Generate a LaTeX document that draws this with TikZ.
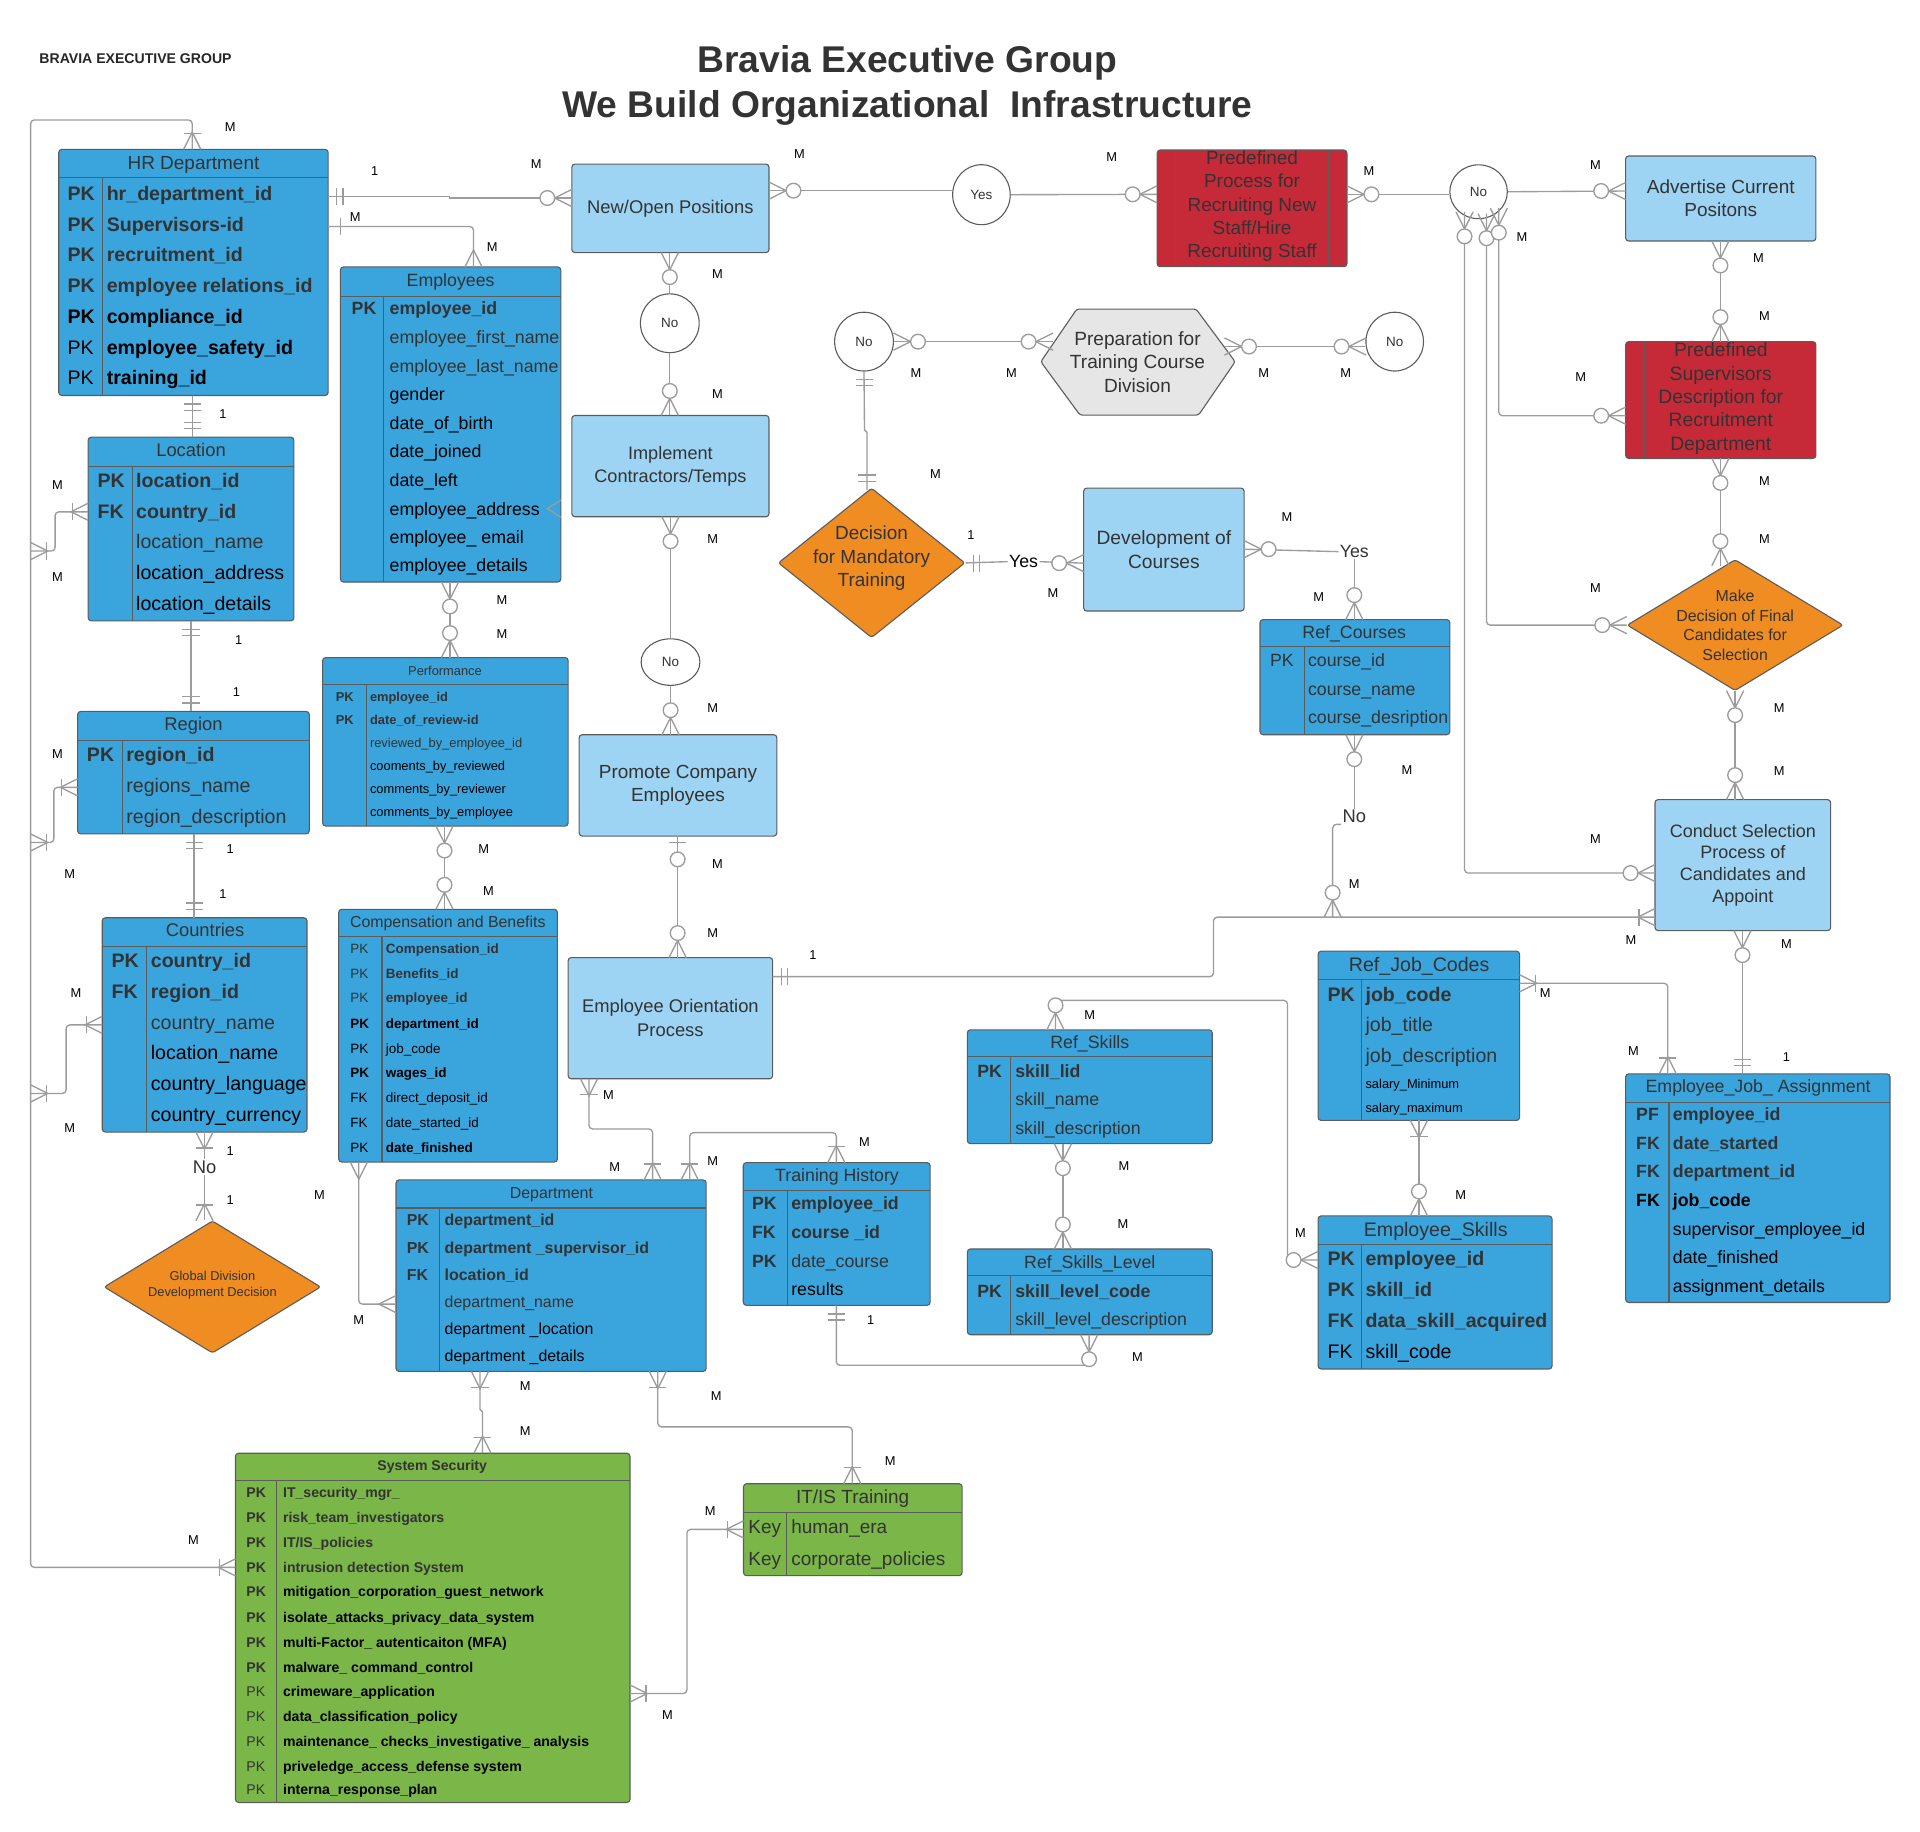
\documentclass[tikz,border=0pt]{standalone}
\usepackage{fontspec}
\setmainfont{Liberation Sans}
\usetikzlibrary{shapes.geometric}
\definecolor{tblue}{HTML}{3AA4DD}
\definecolor{lblue}{HTML}{9ED4F3}
\definecolor{pred}{HTML}{C62A38}
\definecolor{dorange}{HTML}{EF8C22}
\definecolor{sgreen}{HTML}{7AB648}
\definecolor{hexgray}{HTML}{E6E6E6}
\definecolor{edge}{HTML}{5C5C5C}
\definecolor{conn}{HTML}{9C9C9C}
\definecolor{txt}{HTML}{333333}
\newcommand\fs[1]{\fontsize{#1}{#1}\selectfont}
\newcommand\fsl[2]{\fontsize{#1}{#2}\selectfont}
\newcommand\tsz{16}
\newcounter{rc}
\newcounter{lc}
\newcommand\rw[7]{\stepcounter{rc}\node[cell,#4] (rk\arabic{rc}) at (#1,#3) {#5};\node[cell,#6] (rt\arabic{rc}) at (#2,#3) {#7};}
\newcommand\hd[5]{\node[anchor=base,inner sep=0pt,text=txt,font=\fs{#4},yshift={-0.36*#4}] (#1) at (#2,#3) {#5};}
\newcommand\tb[8]{\node[box,fill=#6,minimum width={#4-#2},minimum height={#5-#3}] (#1) at (#2,#3) {};\draw[ln] (#2,#7) -- (#4,#7);\draw[ln] (#8,#7) -- (#8,#5);}
\newcommand\mkr[3]{\begin{scope}[shift={(#1)},rotate=#2]#3\end{scope}}
\newcommand\crF{\draw[mk] (0,-7)--(14,0)--(0,7);}
\newcommand\crO{\crF\draw[mk,fill=white] (20,0) circle[radius=6];}
\newcommand\crB{\crF\draw[mk] (13,-7)--(13,7);}
\newcommand\brD{\draw[mk] (7,-7)--(7,7) (12,-7)--(12,7);}
\newcommand\brS{\draw[mk] (10,-7)--(10,7);}
\newcommand\brO{\draw[mk] (5,-7)--(5,7);\draw[mk,fill=white] (19,0) circle[radius=6];}
\newcommand\lb[2]{\stepcounter{lc}\node[lab] (lb\arabic{lc}) at (#1) {#2};}
\begin{document}
\begin{tikzpicture}[x=1pt,y=-1pt,
 box/.style={draw=edge,line width=0.9pt,rounded corners=2.5pt,anchor=north west,inner sep=0pt,outer sep=0pt},
 ln/.style={draw=edge,line width=0.9pt},
 cell/.style={anchor=base west,inner sep=0pt,yshift={-0.36*\tsz}},
 gb/.style={font=\fs{\tsz}\bfseries,text=txt},
 gr/.style={font=\fs{\tsz},text=txt},
 kb/.style={font=\fs{\tsz}\bfseries,text=black},
 kr/.style={font=\fs{\tsz},text=black},
 proc/.style={box,fill=lblue,text=txt,align=center},
 cn/.style={draw=conn,line width=1.1pt,rounded corners=3pt},
 mk/.style={draw=conn,line width=1.1pt},
 lab/.style={font=\fs{10.5},inner sep=0pt,text=black},
 circ/.style={ellipse,draw=edge,fill=white,line width=0.9pt,inner sep=0pt,text=txt},
 dia/.style={diamond,draw=edge,fill=dorange,line width=0.9pt,inner sep=0pt,rounded corners=2pt},
]
\useasboundingbox (0,0) rectangle (1568,1496);
\fill[white] (0,0) rectangle (1568,1496);

% titles
\node[anchor=base,inner sep=0pt,font=\fs{30.4}\bfseries,text=txt] (t1) at (741,59) {Bravia Executive Group};
\node[anchor=base,inner sep=0pt,font=\fs{30.4}\bfseries,text=txt] (t2) at (741,96) {We Build Organizational\ \ Infrastructure};
\node[anchor=base west,inner sep=0pt,font=\fs{11.5}\bfseries,text=black!85] (t0) at (32,52) {BRAVIA EXECUTIVE GROUP};

% ---------- tables ----------
% HR
\tb{hr}{48}{122}{268}{323}{tblue}{145}{84}
\hd{hrh}{158}{133}{15.5}{HR Department}
\renewcommand\tsz{16}
\rw{55}{87}{158}{gb}{PK}{gb}{hr\_department\_id}
\rw{55}{87}{183.5}{gb}{PK}{gb}{Supervisors-id}
\rw{55}{87}{208.2}{gb}{PK}{gb}{recruitment\_id}
\rw{55}{87}{233.5}{gb}{PK}{gb}{employee relations\_id}
\rw{55}{87}{258.2}{kb}{PK}{kb}{compliance\_id}
\rw{55}{87}{283.4}{kr}{PK}{kb}{employee\_safety\_id}
\rw{55}{87}{308.6}{kr}{PK}{kb}{training\_id}

% Employees
\tb{emp}{278}{218}{458}{475.3}{tblue}{242}{313}
\hd{emph}{368}{228.5}{14.5}{Employees}
\renewcommand\tsz{14.5}
\rw{287}{318}{252}{gb}{PK}{gb}{employee\_id}
\rw{287}{318}{275}{gr}{}{gr}{employee\_first\_name}
\rw{287}{318}{298.7}{gr}{}{gr}{employee\_last\_name}
\rw{287}{318}{321.8}{kr}{}{kr}{gender}
\rw{287}{318}{345.3}{kr}{}{kr}{date\_of\_birth}
\rw{287}{318}{368.4}{kr}{}{kr}{date\_joined}
\rw{287}{318}{391.8}{kr}{}{kr}{date\_left}
\rw{287}{318}{415.4}{kr}{}{kr}{employee\_address}
\rw{287}{318}{438.6}{kr}{}{kr}{employee\_ email}
\rw{287}{318}{461.9}{kr}{}{kr}{employee\_details}

% Location
\tb{loc}{72}{357}{240}{507}{tblue}{381}{108}
\hd{loch}{156}{367}{15}{Location}
\renewcommand\tsz{16}
\rw{79.5}{111}{392.4}{gb}{PK}{gb}{location\_id}
\rw{79.5}{111}{417.7}{gb}{FK}{gb}{country\_id}
\rw{79.5}{111}{442.5}{gr}{}{gr}{location\_name}
\rw{79.5}{111}{467.8}{kr}{}{kr}{location\_address}
\rw{79.5}{111}{492.8}{kr}{}{kr}{location\_details}

% Region
\tb{reg}{63.4}{581}{252.6}{681}{tblue}{605}{100}
\hd{regh}{158}{591}{15}{Region}
\rw{70.8}{103}{616.4}{gb}{PK}{gb}{region\_id}
\rw{70.8}{103}{641.6}{gr}{}{gr}{regions\_name}
\rw{70.8}{103}{666.7}{gr}{}{gr}{region\_description}

% Countries
\tb{cty}{83.5}{749.5}{250.7}{924.5}{tblue}{773}{120}
\hd{ctyh}{167.5}{759.5}{15}{Countries}
\rw{91}{123}{784.3}{gb}{PK}{gb}{country\_id}
\rw{91}{123}{809.4}{gb}{FK}{gb}{region\_id}
\rw{91}{123}{834.6}{gr}{}{gr}{country\_name}
\rw{91}{123}{859.8}{kr}{}{kr}{location\_name}
\rw{91}{123}{885}{kr}{}{kr}{country\_language}
\rw{91}{123}{910}{kr}{}{kr}{country\_currency}

% Performance
\tb{perf}{263.5}{537}{464}{674.6}{tblue}{559}{299}
\hd{perfh}{363.4}{547.7}{10.5}{Performance}
\renewcommand\tsz{10.5}
\rw{274}{302}{569}{gb}{PK}{gb}{employee\_id}
\rw{274}{302}{587.6}{gb}{PK}{gb}{date\_of\_review-id}
\rw{274}{302}{606.6}{gr}{}{gr}{reviewed\_by\_employee\_id}
\rw{274}{302}{625.3}{kr}{}{kr}{cooments\_by\_reviewed}
\rw{274}{302}{644.3}{kr}{}{kr}{comments\_by\_reviewer}
\rw{274}{302}{663}{kr}{}{kr}{comments\_by\_employee}

% Compensation and Benefits
\tb{comp}{276.6}{742.6}{455.2}{949}{tblue}{765}{312}
\hd{comph}{365.7}{752.7}{13}{Compensation and Benefits}
\renewcommand\tsz{11}
\rw{286}{315}{774.7}{gr}{PK}{gb}{Compensation\_id}
\rw{286}{315}{795}{gr}{PK}{gb}{Benefits\_id}
\rw{286}{315}{815}{gr}{PK}{gb}{employee\_id}
\rw{286}{315}{835.6}{kb}{PK}{kb}{department\_id}
\rw{286}{315}{856}{kr}{PK}{kr}{job\_code}
\rw{286}{315}{876}{kb}{PK}{kb}{wages\_id}
\rw{286}{315}{896.7}{kr}{FK}{kr}{direct\_deposit\_id}
\rw{286}{315}{917}{kr}{FK}{kr}{date\_started\_id}
\rw{286}{315}{937.5}{kr}{PK}{kb}{date\_finished}

% Department
\tb{dept}{323.4}{963.6}{576.7}{1120}{tblue}{986.5}{359}
\hd{depth}{450.3}{974}{13}{Department}
\renewcommand\tsz{13}
\rw{332}{363}{996.5}{gb}{PK}{gb}{department\_id}
\rw{332}{363}{1018.6}{gb}{PK}{gb}{department \_supervisor\_id}
\rw{332}{363}{1041}{gb}{FK}{gb}{location\_id}
\rw{332}{363}{1063}{gr}{}{gr}{department\_name}
\rw{332}{363}{1085}{kr}{}{kr}{department \_location}
\rw{332}{363}{1107}{kr}{}{kr}{department \_details}

% Training History
\tb{th}{607}{949.5}{759.6}{1066}{tblue}{972}{643}
\hd{thh}{683.6}{959.5}{14.5}{Training History}
\renewcommand\tsz{14.5}
\rw{614}{646}{982.6}{gb}{PK}{gb}{employee\_id}
\rw{614}{646}{1006}{gb}{FK}{gb}{course \_id}
\rw{614}{646}{1029.5}{gb}{PK}{gr}{date\_course}
\rw{614}{646}{1052.7}{kr}{}{kr}{results}

% System Security
\tb{sys}{192.3}{1186.8}{514.5}{1472}{sgreen}{1209}{226}
\node[anchor=base,inner sep=0pt,text=txt,font=\fs{11.5}\bfseries,yshift={-0.36*11.5}] (sysh) at (353,1197) {System Security};
\renewcommand\tsz{11.5}
\rw{201}{231}{1219}{gb}{PK}{gb}{IT\_security\_mgr\_}
\rw{201}{231}{1239.4}{gb}{PK}{gb}{risk\_team\_investigators}
\rw{201}{231}{1259.4}{gb}{PK}{gb}{IT/IS\_policies}
\rw{201}{231}{1279.8}{gb}{PK}{gb}{intrusion detection System}
\rw{201}{231}{1300}{gb}{PK}{kb}{mitigation\_corporation\_guest\_network}
\rw{201}{231}{1320.5}{gb}{PK}{kb}{isolate\_attacks\_privacy\_data\_system}
\rw{201}{231}{1341}{gb}{PK}{kb}{multi-Factor\_ autenticaiton (MFA)}
\rw{201}{231}{1361.4}{gb}{PK}{kb}{malware\_ command\_control}
\rw{201}{231}{1381.5}{gr}{PK}{kb}{crimeware\_application}
\rw{201}{231}{1402}{gr}{PK}{kb}{data\_classification\_policy}
\rw{201}{231}{1422}{gr}{PK}{kb}{maintenance\_ checks\_investigative\_ analysis}
\rw{201}{231}{1442.3}{gr}{PK}{kb}{priveledge\_access\_defense system}
\rw{201}{231}{1461}{gr}{PK}{kb}{interna\_response\_plan}

% IT/IS Training
\tb{itis}{607.2}{1211.7}{785.7}{1286.8}{sgreen}{1235}{642}
\hd{itish}{696.3}{1222.6}{15.5}{IT/IS Training}
\renewcommand\tsz{15.5}
\rw{611}{646}{1247}{gr}{Key}{gr}{human\_era}
\rw{611}{646}{1272.5}{gr}{Key}{gr}{corporate\_policies}

% Ref_Courses
\tb{refc}{1029}{506}{1184}{600}{tblue}{528}{1065}
\hd{refch}{1106}{516}{14.5}{Ref\_Courses}
\renewcommand\tsz{14.5}
\rw{1037}{1068}{539}{gr}{PK}{gr}{course\_id}
\rw{1037}{1068}{562.7}{gr}{}{gr}{course\_name}
\rw{1037}{1068}{586}{gr}{}{gr}{course\_desription}

% Ref_Skills
\tb{rs}{790}{841}{990}{934}{tblue}{863}{825}
\hd{rsh}{890}{851}{14.5}{Ref\_Skills}
\rw{798}{829}{874.6}{gb}{PK}{gb}{skill\_lid}
\rw{798}{829}{897.6}{gr}{}{gr}{skill\_name}
\rw{798}{829}{921}{gr}{}{gr}{skill\_description}

% Ref_Skills_Level
\tb{rsl}{790}{1020}{990}{1090}{tblue}{1042}{825}
\hd{rslh}{890}{1030.7}{14.5}{Ref\_Skills\_Level}
\rw{798}{829}{1054}{gb}{PK}{gb}{skill\_level\_code}
\rw{798}{829}{1077}{gr}{}{gr}{skill\_level\_description}

% Ref_Job_Codes
\tb{rjc}{1076.4}{776.8}{1241}{915}{tblue}{800}{1112}
\hd{rjch}{1159}{787.3}{16}{Ref\_Job\_Codes}
\renewcommand\tsz{16}
\rw{1084}{1115}{812}{gb}{PK}{gb}{job\_code}
\rw{1084}{1115}{837}{gr}{}{gr}{job\_title}
\rw{1084}{1115}{862}{gr}{}{gr}{job\_description}
\rw{1084}{1115}{883}{kr}{}{kr,font=\fs{10.5}}{salary\_Minimum}
\rw{1084}{1115}{902.5}{kr}{}{kr,font=\fs{10.5}}{salary\_maximum}

% Employee_Skills
\tb{es}{1076.4}{993}{1267.5}{1118}{tblue}{1016}{1112}
\hd{esh}{1172.5}{1003.7}{16}{Employee\_Skills}
\rw{1084}{1115}{1028}{gb}{PK}{gb}{employee\_id}
\rw{1084}{1115}{1052.8}{gb}{PK}{gb}{skill\_id}
\rw{1084}{1115}{1078}{gb}{FK}{gb}{data\_skill\_acquired}
\rw{1084}{1115}{1103.7}{kr}{FK}{kr}{skill\_code}

% Employee_Job_Assignment
\tb{eja}{1327.6}{877}{1543.5}{1063.7}{tblue}{900}{1363}
\hd{ejah}{1435.8}{887}{14.5}{Employee\_Job\_ Assignment}
\renewcommand\tsz{14.5}
\rw{1336}{1366}{910}{gb}{PF}{gb}{employee\_id}
\rw{1336}{1366}{933.5}{gb}{FK}{gb}{date\_started}
\rw{1336}{1366}{956.8}{gb}{FK}{gb}{department\_id}
\rw{1336}{1366}{980}{kb}{FK}{kb}{job\_code}
\rw{1336}{1366}{1003.6}{kr}{}{kr}{supervisor\_employee\_id}
\rw{1336}{1366}{1026.9}{kr}{}{kr}{date\_finished}
\rw{1336}{1366}{1050}{kr}{}{kr}{assignment\_details}

% ---------- process boxes ----------
\node[proc,minimum width=161,minimum height=72.3,font=\fs{15}] (newopen) at (467,134) {New/Open Positions};
\node[proc,minimum width=161,minimum height=82.7,font=\fsl{14.8}{18.8}] (impl) at (467,339.3) {Implement\\Contractors/Temps};
\node[proc,minimum width=161.4,minimum height=82.8,font=\fsl{15.5}{18.8}] (prom) at (473,600) {Promote Company\\Employees};
\node[proc,minimum width=167,minimum height=99,font=\fsl{15}{19.3}] (orient) at (464,782) {Employee Orientation\\Process};
\node[proc,minimum width=155.4,minimum height=69.4,font=\fsl{15.5}{18.6}] (adv) at (1327.6,127.4) {Advertise Current\\Positons};
\node[proc,minimum width=131,minimum height=100.4,font=\fsl{15.7}{19.1}] (dev) at (885,398.6) {Development of\\Courses};
\node[proc,minimum width=143.4,minimum height=107,font=\fsl{14.7}{17.7}] (cond) at (1351.6,653) {Conduct Selection\\Process of\\Candidates and\\Appoint};

% red predefined process boxes
\node[box,fill=pred,minimum width=155,minimum height=95.3] (predrec) at (945,122.5) {};
\draw[ln] (960,122.5) -- (960,217.8) (1085,122.5) -- (1085,217.8);
\node[align=center,inner sep=0pt,text=txt,font=\fsl{15.5}{19}] (predrect) at (1022.5,168.5) {Predefined\\Process for\\Recruiting New\\Staff/Hire\\Recruiting Staff};
\node[box,fill=pred,minimum width=155.4,minimum height=95.4] (predsup) at (1327.6,279) {};
\draw[ln] (1343,279) -- (1343,374.4) (1468,279) -- (1468,374.4);
\node[align=center,inner sep=0pt,text=txt,font=\fsl{15.8}{19.1}] (predsupt) at (1405.3,325.5) {Predefined\\Supervisors\\Description for\\Recruitment\\Department};

% diamonds
\node[dia,minimum width=152.5,minimum height=122.2] (dmt) at (711.8,459.7) {};
\node[align=center,inner sep=0pt,text=txt,font=\fsl{15.5}{19.2}] (dmtt) at (711.8,456) {Decision\\for Mandatory\\Training};
\node[dia,minimum width=176.5,minimum height=107] (mdec) at (1417,510.5) {};
\node[align=center,inner sep=0pt,text=txt,font=\fsl{13}{15.9}] (mdect) at (1417,510.5) {Make\\Decision of Final\\Candidates for\\Selection};
\node[dia,minimum width=177,minimum height=108] (gdd) at (173.5,1051) {};
\node[align=center,inner sep=0pt,text=txt,font=\fsl{10.5}{13}] (gddt) at (173.5,1049.5) {Global Division\\Development Decision};

% hexagon
\draw[fill=hexgray,draw=edge,line width=0.9pt,rounded corners=2pt] (850,295.4) -- (879.4,252.4) -- (976.8,252.4) -- (1008.7,295.4) -- (978.8,339) -- (882,339) -- cycle;
\node[align=center,inner sep=0pt,text=txt,font=\fsl{15.6}{19.2}] (prep) at (929,295.4) {Preparation for\\Training Course\\Division};
\coordinate (prepL) at (860,279);
\coordinate (prepR) at (1000,283);

% ellipses
\node[circ,minimum width=47,minimum height=49,font=\fs{11}] (yes0) at (801.5,159) {Yes};
\node[circ,minimum width=47,minimum height=44,font=\fs{11}] (noA) at (1207.5,156.6) {No};
\node[circ,minimum width=48,minimum height=48,font=\fs{11}] (noB) at (547,264) {No};
\node[circ,minimum width=48,minimum height=38,font=\fs{11}] (noC) at (547.6,540.7) {No};
\node[circ,minimum width=48,minimum height=48,font=\fs{11}] (noD) at (705.6,279) {No};
\node[circ,minimum width=47,minimum height=48,font=\fs{11}] (noE) at (1139,279) {No};

% plain text labels on lines
\node[inner sep=1pt,font=\fs{15},text=txt] (noL) at (167,953) {No};
\node[inner sep=1pt,font=\fs{14.5},text=black] (yes1) at (835.9,458.7) {Yes};
\node[inner sep=1pt,font=\fs{14.5},text=txt] (yes2) at (1106,450.5) {Yes};
\node[inner sep=1pt,font=\fs{15},text=txt] (no3) at (1106,666.8) {No};

% ---------- connectors ----------
\draw[cn] (hr.north -| 157,0) -- (157,98) -- (25,98) -- (25,1280) -- (sys.west |- 0,1280);
\draw[cn] (25,450) -- (45,450) -- (45,418) -- (loc.west |- 0,418);
\draw[cn] (25,688) -- (44,688) -- (44,643) -- (reg.west |- 0,643);
\draw[cn] (25,893) -- (54,893) -- (54,837) -- (cty.west |- 0,837);
\draw[cn] (hr.south -| 157,0) -- (loc.north -| 157,0);
\draw[cn] (loc.south -| 156,0) -- (reg.north -| 156,0);
\draw[cn] (reg.south -| 158.5,0) -- (cty.north -| 158.5,0);
\draw[cn] (cty.south -| 167,0) -- (noL.north);
\draw[cn] (noL.south) -- (gdd.north -| 167,0);
\draw[cn,sharp corners] (hr.east |- 0,160.5) -- (367,160.5) -- (367,161.7) -- (newopen.west |- 0,161.7);
\draw[cn] (hr.east |- 0,185) -- (386.7,185) -- (emp.north -| 386.7,0);
\draw[cn] (emp.south -| 367.5,0) -- (perf.north -| 367.5,0);
\draw[cn] (perf.south -| 363,0) -- (comp.north -| 363,0);
\draw[cn] (comp.south -| 293,0) -- (293,1065) -- (dept.west |- 0,1065);
\draw[cn] (newopen.south -| 547,0) -- (noB.north);
\draw[cn] (noB.south) -- (impl.north -| 547,0);
\draw[cn] (impl.south -| 547.6,0) -- (noC.north);
\draw[cn] (noC.south) -- (prom.north -| 547.6,0);
\draw[cn] (prom.south -| 553.4,0) -- (orient.north -| 553.4,0);
\draw[cn] (orient.south -| 481,0) -- (481,922) -- (533,922) -- (dept.north -| 533,0);
\draw[cn] (dept.north -| 563.3,0) -- (563.3,925) -- (683,925) -- (th.north -| 683,0);
\draw[cn] (th.south -| 683,0) -- (683,1115) -- (889.4,1115) -- (rsl.south -| 889.4,0);
\draw[cn] (rs.south -| 868,0) -- (rsl.north -| 868,0);
\draw[cn] (orient.east |- 0,797.6) -- (991,797.6) -- (991,749) -- (cond.west |- 0,749);
\draw[cn] (refc.south -| 1106,0) -- (no3.north);
\draw[cn] (no3.south west) -- (no3.south west -| 1088.3,0) -- (1088.3,749);
\draw[cn] (rs.north -| 862,0) -- (862,817) -- (1051.5,817) -- (1051.5,1029) -- (es.west |- 0,1029);
\draw[cn] (rjc.south -| 1158.8,0) -- (es.north -| 1158.8,0);
\draw[cn] (rjc.east |- 0,803) -- (1362,803) -- (eja.north -| 1362,0);
\draw[cn] (cond.south -| 1423,0) -- (eja.north -| 1423,0);
\draw[cn] (1417,564) -- (cond.north -| 1417,0);
\draw[cn] (predsup.south -| 1405,0) -- (1405,462);
\draw[cn] (adv.south -| 1405,0) -- (predsup.north -| 1405,0);
\draw[cn] (noA.east) -- (adv.west |- 0,156);
\draw[cn] (predrec.east |- 0,158.7) -- (noA.west |- 0,158.7);
\draw[cn] (yes0.east) -- (predrec.west |- 0,158.7);
\draw[cn] (newopen.east |- 0,155.7) -- (yes0.west |- 0,155.7);
\draw[cn] (1196,173) -- (1196,713) -- (cond.west |- 0,713);
\draw[cn] (1214,174.5) -- (1214,510.5) -- (mdec.west);
\draw[cn] (1224,170) -- (1224,339.5) -- (predsup.west |- 0,339.5);
\draw[cn] (noD.east) -- (prepL);
\draw[cn] (prepR) -- (noE.west |- 0,283);
\draw[cn,sharp corners] (noD.south) -- (706,351) -- (708,353) -- (708,400);
\draw[cn] (dmt.east) -- (yes1.west);
\draw[cn] (yes1.east) -- (dev.west |- 0,459.9);
\draw[cn] (dev.east |- 0,448.5) -- (yes2.west);
\draw[cn] (yes2.south) -- (refc.north -| 1106,0);
\draw[cn,sharp corners] (dept.south -| 392,0) -- (392,1151) -- (394,1153) -- (sys.north -| 394,0);
\draw[cn] (dept.south -| 537.2,0) -- (537.2,1165.3) -- (696,1165.3) -- (itis.north -| 696,0);
\draw[cn] (sys.east |- 0,1383) -- (561,1383) -- (561,1249) -- (itis.west |- 0,1249);

% ---------- end markers ----------
\mkr{157,122}{90}{\crB}
\mkr{192.3,1280}{180}{\crB}
\mkr{25,450}{0}{\crB}
\mkr{72,418}{180}{\crB}
\mkr{25,688}{0}{\crB}
\mkr{63.4,643}{180}{\crB}
\mkr{25,893}{0}{\crB}
\mkr{83.5,837}{180}{\crB}
\mkr{157,323}{-90}{\brD}
\mkr{157,357}{90}{\brD}
\mkr{156,507}{-90}{\brD}
\mkr{156,581}{90}{\brD}
\mkr{158.5,681}{-90}{\brD}
\mkr{158.5,749.5}{90}{\brD}
\mkr{167,924.5}{-90}{\crB}
\mkr{167,997}{90}{\crB}
\mkr{268,160.5}{0}{\brD}
\mkr{467,161.7}{180}{\crO}
\mkr{268,185}{0}{\brS}
\mkr{386.7,218}{90}{\crF}
\mkr{367.5,475.3}{-90}{\crO}
\mkr{367.5,537}{90}{\crO}
\mkr{363,674.6}{-90}{\crO}
\mkr{363,742.6}{90}{\crO}
\mkr{293,949}{-90}{\crF}
\mkr{323.4,1065}{180}{\crF}
\mkr{547,206.3}{-90}{\crO}
\mkr{547,339.3}{90}{\crO}
\mkr{547.6,422}{-90}{\crO}
\mkr{547.6,600}{90}{\crO}
\mkr{553.4,682.8}{-90}{\brO}
\mkr{553.4,782}{90}{\crO}
\mkr{481,881}{-90}{\crB}
\mkr{533,963.6}{90}{\crB}
\mkr{563.3,963.6}{90}{\crB}
\mkr{683,949.5}{90}{\crB}
\mkr{683,1066}{-90}{\brD}
\mkr{889.4,1090}{-90}{\crO}
\mkr{868,934}{-90}{\crO}
\mkr{868,1020}{90}{\crO}
\mkr{631,797.6}{0}{\brD}
\mkr{1351.6,749}{180}{\crB}
\mkr{1106,600}{-90}{\crO}
\mkr{1088.3,749}{90}{\crO}
\mkr{862,841}{90}{\crO}
\mkr{1076.4,1029}{180}{\crO}
\mkr{1158.8,915}{-90}{\crB}
\mkr{1158.8,993}{90}{\crO}
\mkr{1241,803}{0}{\crB}
\mkr{1362,877}{90}{\crB}
\mkr{1423,760}{-90}{\crO}
\mkr{1423,877}{90}{\brD}
\mkr{1417,564}{-90}{\crO}
\mkr{1417,653}{90}{\crO}
\mkr{1405,374.4}{-90}{\crO}
\mkr{1405,462}{90}{\crO}
\mkr{1405,196.8}{-90}{\crO}
\mkr{1405,279}{90}{\crO}
\mkr{1327.6,156}{180}{\crO}
\mkr{1100,158.7}{0}{\crO}
\mkr{945,158.7}{180}{\crO}
\mkr{628,155.7}{0}{\crO}
\mkr{1196,173}{-90}{\crO}
\mkr{1351.6,713}{180}{\crO}
\mkr{1214,174.5}{-90}{\crO}
\mkr{1328.5,510.5}{180}{\crO}
\mkr{1224,170}{-90}{\crO}
\mkr{1327.6,339.5}{180}{\crO}
\mkr{729.7,279}{0}{\crO}
\mkr{860,279}{180}{\crO}
\mkr{1000,283}{0}{\crO}
\mkr{1115.6,283}{180}{\crO}
\mkr{706,302.7}{-90}{\brD}
\mkr{708,400}{90}{\brD}
\mkr{788,459.9}{0}{\brD}
\mkr{885,459.9}{180}{\crO}
\mkr{1016,448.5}{0}{\crO}
\mkr{1106,506}{90}{\crO}
\mkr{392,1120}{-90}{\crB}
\mkr{394,1186.8}{90}{\crB}
\mkr{537.2,1120}{-90}{\crB}
\mkr{696,1211.7}{90}{\crB}
\mkr{514.5,1383}{0}{\crB}
\mkr{607.2,1249}{180}{\crB}
\mkr{458,415.4}{180}{\draw[mk] (0,-7)--(11,0)--(0,7);}

% ---------- cardinality labels ----------
\lb{188,103.5}{M}
\lb{306,140}{1}
\lb{438,134}{M}
\lb{290,177}{M}
\lb{402,202}{M}
\lb{182,338}{1}
\lb{47,396}{M}
\lb{47,471}{M}
\lb{195,523}{1}
\lb{193,565}{1}
\lb{47,616}{M}
\lb{188,693}{1}
\lb{182,730}{1}
\lb{57,714}{M}
\lb{62,811}{M}
\lb{57,921}{M}
\lb{188,940}{1}
\lb{188,980}{1}
\lb{410,490}{M}
\lb{410,518}{M}
\lb{395,693}{M}
\lb{399,728}{M}
\lb{261,976}{M}
\lb{293,1078}{M}
\lb{653,126}{M}
\lb{586,224}{M}
\lb{586,322}{M}
\lb{582,440}{M}
\lb{582,578}{M}
\lb{586,706}{M}
\lb{582,762}{M}
\lb{908,128}{M}
\lb{1118,140}{M}
\lb{1303,135}{M}
\lb{1243,194}{M}
\lb{1436,211}{M}
\lb{1441,258}{M}
\lb{1291,308}{M}
\lb{1441,393}{M}
\lb{1441,440}{M}
\lb{1303,480}{M}
\lb{1453,578}{M}
\lb{1453,630}{M}
\lb{1303,685}{M}
\lb{1332,768}{M}
\lb{1459,771}{M}
\lb{1459,863}{1}
\lb{1334,858}{M}
\lb{1262,811}{M}
\lb{1193,976}{M}
\lb{748,305}{M}
\lb{826,305}{M}
\lb{1032,305}{M}
\lb{1099,305}{M}
\lb{764,387}{M}
\lb{793,437}{1}
\lb{860,484}{M}
\lb{1051,422}{M}
\lb{1077,488}{M}
\lb{1149,629}{M}
\lb{1106,722}{M}
\lb{664,780}{1}
\lb{497,894}{M}
\lb{502,953}{M}
\lb{582,948}{M}
\lb{706,933}{M}
\lb{711,1078}{1}
\lb{929,1108}{M}
\lb{890,829}{M}
\lb{918,952}{M}
\lb{917,1000}{M}
\lb{1062,1007}{M}
\lb{429,1132}{M}
\lb{429,1169}{M}
\lb{585,1140}{M}
\lb{727,1193}{M}
\lb{580,1234}{M}
\lb{545,1401}{M}
\lb{158,1258}{M}
\end{tikzpicture}
\end{document}
